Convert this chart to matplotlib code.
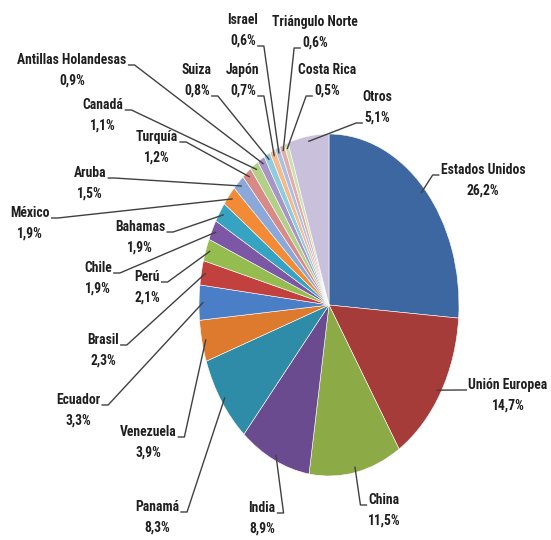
import matplotlib
matplotlib.use("Agg")
import matplotlib.pyplot as plt
import numpy as np

# data, clockwise from the top
paises = ["Estados Unidos", "Unión Europea", "China", "India", "Panamá", "Venezuela",
          "Ecuador", "Brasil", "Perú", "Chile", "Bahamas", "México", "Aruba", "Turquía",
          "Canadá", "Antillas Holandesas", "Suiza", "Japón", "Israel", "Triángulo Norte",
          "Costa Rica", "Otros"]
porcentajes = [26.2, 14.7, 11.5, 8.9, 8.3, 3.9, 3.3, 2.3, 2.1, 1.9, 1.9, 1.9, 1.5, 1.2,
               1.1, 0.9, 0.8, 0.7, 0.6, 0.6, 0.5, 5.1]
colores = ["#3D67A0", "#A53C3A", "#8CAB47", "#6B4B90", "#2E8CA8", "#DD7A2E",
           "#4A7EC6", "#C2413E", "#95BC4F", "#7C57A5", "#36A3C2", "#F38B36",
           "#8AA9DA", "#D78A88", "#B4CF87", "#A695C6", "#8FCCE0", "#F8B98A",
           "#A9C0E2", "#E2ACAB", "#CFE0B0", "#C9C0DC"]

# label layout (pixel centres of the name line, top-left origin) and where the leader leaves
pos_nombre = [(483, 170), (508, 385), (384, 500), (262, 508), (157, 507), (148, 432),
              (78, 400), (103, 340), (147, 277), (98, 268), (140, 227), (30, 213),
              (90, 173), (157, 137), (103, 105), (72, 60), (197, 70), (243, 70),
              (243, 20), (315, 22), (327, 70), (377, 97)]
salida = ["nl", "nl", "nl", "nr", "nr", "nr", "nr", "nr", "nr", "nr", "nr", "nr",
          "nr", "nr", "nr", "nr", "pr", "pr", "pr", "pl", "pl", "pl"]

W, H = 551, 540
cx, cy, rx, ry = 329, 305, 130, 171

fig = plt.figure(figsize=(W / 100, H / 100), dpi=100)
ax = fig.add_axes([0, 0, 1, 1])
wedges, _ = ax.pie(porcentajes, colors=colores, startangle=90, counterclock=False,
                   wedgeprops=dict(edgecolor="white", linewidth=0.4))
ax.set_aspect("auto")
ax.set_xlim(-cx / rx, (W - cx) / rx)
ax.set_ylim(-(H - cy) / ry, cy / ry)
ax.axis("off")

fuente = dict(family=["Roboto Condensed", "Lato", "DejaVu Sans"], fontweight="bold",
              fontsize=9.8, color="#1F1F1F", ha="center", va="center")

textos = []
for nombre, p, (px, py) in zip(paises, porcentajes, pos_nombre):
    t1 = fig.text(px / W, 1 - py / H, nombre, **fuente)
    t2 = fig.text(px / W, 1 - (py + 21) / H, f"{p:.1f}%".replace(".", ","), **fuente)
    textos.append((t1, t2))

fig.canvas.draw()
r = fig.canvas.get_renderer()
inv = fig.transFigure.inverted()
for w, (t1, t2), s in zip(wedges, textos, salida):
    t = t1 if s[0] == "n" else t2
    bb = t.get_window_extent(r)
    yb = bb.y0 + 2
    if s[1] == "r":
        x0, x1 = bb.x1 + 2, bb.x1 + 8
    else:
        x0, x1 = bb.x0 - 2, bb.x0 - 8
    ang = np.deg2rad((w.theta1 + w.theta2) / 2)
    fin = ax.transData.transform((0.97 * np.cos(ang), 0.97 * np.sin(ang)))
    pts = inv.transform([(x0, yb), (x1, yb), tuple(fin)])
    fig.add_artist(plt.Line2D(pts[:, 0], pts[:, 1], color="#404040", lw=1))

fig.savefig("out.png", dpi=100, facecolor="white")
